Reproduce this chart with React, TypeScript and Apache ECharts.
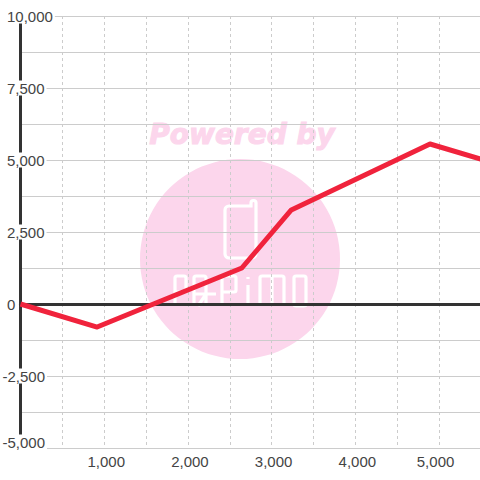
import React, { useEffect, useRef } from "react";
import * as echarts from "echarts";

const lineX = [0, 915, 2644, 3235, 4892, 5500];
const lineY = [0, -800, 1250, 3265, 5555, 5030];
const yLabels = [10000, 7500, 5000, 2500, 0, -2500, -5000];
const xLabels = [1000, 2000, 3000, 4000, 5000];

const fmt = (v: number) => v.toLocaleString("en-US");
const FONT = "Liberation Sans";
const PINK = "#fcd6ec";
const TEXT = "#444";

echarts.graphic.registerShape(
  "papimoLogo",
  echarts.graphic.extendPath(
    "M229 206 H251 V203 a2.5 2.5 0 0 1 5 0 V254 a4 4 0 0 1 -4 4 H229 a4 4 0 0 1 -4 -4 V210 a4 4 0 0 1 4 -4 " +
      "M175 306 V278 Q175 276 177 276 H184 Q186 276 186 278 V290 Q186 292 184 292 H175 " +
      "M194 306 V278 Q194 276 196 276 H204 Q206 276 206 278 V306 M194 294 H216 M206 294 L198 306 " +
      "M222 306 V278 Q222 276 224 276 H234 Q236 276 236 278 V290 Q236 292 234 292 H222 " +
      "M248 306 V285 M248 277 V279 " +
      "M260 306 V278 Q260 276 262 276 H282 Q284 276 284 278 V306 M272 276 V306 " +
      "M294 278 Q294 276 296 276 H304 Q306 276 306 278 V304 Q306 306 304 306 H296 Q294 306 294 304 Z",
    {}
  )
);

export default function App() {
  const ref = useRef<HTMLDivElement>(null);
  useEffect(() => {
    document.body.style.margin = "0";
    const chart = echarts.init(ref.current!, undefined, { renderer: "svg" });
    const base = { fontFamily: FONT, fontSize: 15, color: TEXT };
    const bg = { ...base, backgroundColor: "#fff", lineHeight: 14 };
    chart.setOption({
      animation: false,
      backgroundColor: "#fff",
      grid: {
        left: 20.5,
        width: 460.4,
        top: 16,
        height: 432,
        containLabel: false,
        outerBoundsMode: "none",
      },
      graphic: [
        {
          type: "circle",
          z: -10,
          shape: { cx: 240, cy: 259, r: 100 },
          style: { fill: PINK },
        },
        {
          type: "text",
          z: -10,
          x: 242,
          y: 134,
          style: {
            text: "Powered by",
            fill: PINK,
            stroke: PINK,
            lineWidth: 1,
            font: "italic bold 28px 'DejaVu Sans'",
            align: "center",
            verticalAlign: "middle",
          },
        },
        {
          type: "papimoLogo",
          z: -9,
          x: 0,
          y: 0,
          style: { fill: "none", stroke: "#fff", lineWidth: 3.2 },
        },
      ],
      xAxis: [
        {
          type: "value",
          min: 0,
          max: 5500,
          interval: 500,
          axisLine: { show: false, onZero: false },
          axisTick: { show: false },
          splitLine: { show: true, lineStyle: { color: "#cccccc", type: [3, 3], width: 1 } },
          axisLabel: {
            margin: 6,
            ...base,
            hideOverlap: false,
            rich: {
              r: { ...base, padding: [0, 0, 0, 4] },
              l: { ...base, padding: [0, 7, 0, 0] },
            },
            formatter: (v: number) =>
              xLabels.includes(v) ? (v === 5000 ? `{l|${fmt(v)}}` : `{r|${fmt(v)}}`) : "",
          },
        },
        {
          type: "value",
          min: 0,
          max: 5500,
          axisLine: { show: true, onZero: true, lineStyle: { color: "#333", width: 3 } },
          axisTick: { show: false },
          axisLabel: { show: false },
          splitLine: { show: false },
        },
      ],
      yAxis: {
        type: "value",
        min: -5000,
        max: 10000,
        interval: 1250,
        axisLine: { show: true, onZero: false, lineStyle: { color: "#333", width: 3 } },
        axisTick: { show: false },
        splitLine: { show: true, lineStyle: { color: "#cccccc", width: 1 } },
        axisLabel: {
          align: "left",
          margin: 18,
          ...base,
          hideOverlap: false,
          rich: {
            p: { ...bg, padding: [0, 2, 0, 4.5] },
            n: { ...bg, padding: [0, 2, 0, 0] },
            b: { ...bg, padding: [0, 2, 12, 0] },
          },
          formatter: (v: number) => {
            if (!yLabels.includes(v)) return "";
            if (v === -5000) return `{b|${fmt(v)}}`;
            return v < 0 ? `{n|${fmt(v)}}` : `{p|${fmt(v)}}`;
          },
        },
      },
      series: [
        {
          type: "line",
          xAxisIndex: 0,
          yAxisIndex: 0,
          z: 5,
          data: lineX.map((x, i) => [x, lineY[i]]),
          showSymbol: false,
          symbol: "none",
          clip: true,
          lineStyle: { color: "#f0233c", width: 5, cap: "butt", join: "round" },
        },
      ],
    });
    return () => chart.dispose();
  }, []);
  return <div ref={ref} style={{ width: 480, height: 480 }} />;
}
